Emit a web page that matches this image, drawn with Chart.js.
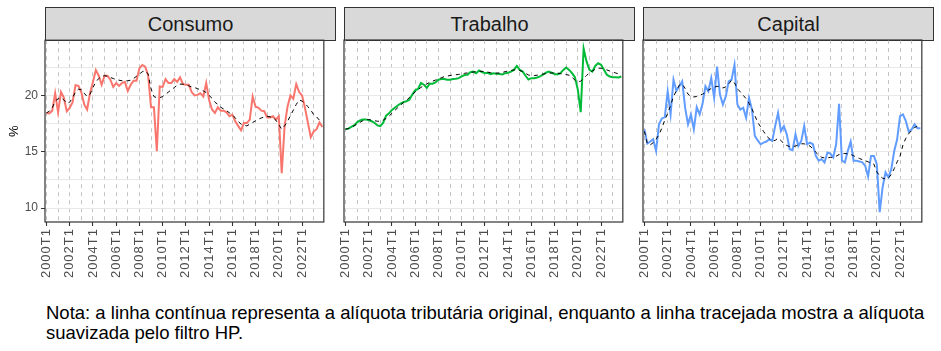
<!DOCTYPE html>
<html>
<head>
<meta charset="utf-8">
<script src="https://cdn.jsdelivr.net/npm/chart.js@4.4.1/dist/chart.umd.min.js"></script>
<style>
  body { margin: 0; background: #fff; width: 941px; height: 351px; position: relative; overflow: hidden;
         font-family: "Liberation Sans", Arial, sans-serif; }
  .strip { position: absolute; top: 7px; height: 34px; width: 291px; background: #d9d9d9; border: 1px solid #333;
           box-sizing: border-box; text-align: center; font-size: 20px; line-height: 32px; color: #1a1a1a; }
  canvas { position: absolute; top: 30px; }
  #nota { position: absolute; left: 46px; top: 303px; font-size: 18.5px; line-height: 20px; color: #000; }
</style>
</head>
<body>
<div class="strip" style="left:45px">Consumo</div>
<div class="strip" style="left:344px">Trabalho</div>
<div class="strip" style="left:643px">Capital</div>
<canvas id="c1" width="340" height="260" style="left:0px"></canvas>
<canvas id="c2" width="305" height="260" style="left:334px"></canvas>
<canvas id="c3" width="305" height="260" style="left:633px"></canvas>
<div id="nota">Nota: a linha contínua representa a alíquota tributária original, enquanto a linha tracejada mostra a alíquota<br>suavizada pelo filtro HP.</div>

<script>
// eixo x: trimestres 2000T1 ... 2023T4
const anos = [2000, 2001, 2002, 2003, 2004, 2005, 2006, 2007, 2008, 2009, 2010, 2011,
              2012, 2013, 2014, 2015, 2016, 2017, 2018, 2019, 2020, 2021, 2022, 2023];
const trimestres = [];
anos.forEach(a => { for (let t = 1; t <= 4; t++) trimestres.push(a + 'T' + t); });

const consumo = [
  18.45, 18.4, 18.65, 20.2, 18.5, 20.3, 19.8, 18.6, 18.9, 19.4, 20.9, 20.85,
  20.3, 19.2, 18.75, 20.2, 21.2, 22.25, 21.75, 20.95, 21.75, 21.75, 21.4, 20.75,
  21.1, 20.85, 21.1, 21.2, 20.4, 20.95, 21.3, 21.3, 22.4, 22.7, 22.55, 21.8,
  18.95, 18.95, 15.05, 20.8, 20.75, 21.45, 21.1, 21.1, 21.45, 21.2, 21.6, 21.0,
  20.95, 20.95, 20.3, 20.0, 20.05, 20.2, 19.9, 21.1, 19.6, 18.75, 18.45, 18.95,
  18.65, 18.65, 18.5, 18.15, 18.3, 17.7, 17.3, 16.9, 17.55, 17.55, 17.85, 19.9,
  19.0, 18.9, 18.65, 18.6, 18.05, 18.05, 18.15, 17.85, 18.15, 13.1, 17.3, 19.0,
  20.0, 19.7, 21.0, 20.3, 20.0, 18.9, 17.6, 16.3, 16.8, 17.0, 17.6, 17.2
];
const consumoHP = [
  18.45, 18.6, 18.9, 19.5, 19.7, 19.8, 19.6, 19.3, 19.4, 19.8, 20.3, 20.55,
  20.5, 20.2, 19.9, 20.1, 20.7, 21.2, 21.5, 21.7, 21.75, 21.7, 21.6, 21.5,
  21.4, 21.35, 21.3, 21.3, 21.3, 21.35, 21.5, 21.7, 21.9, 22.1, 22.2, 21.9,
  20.6, 19.9, 19.8, 19.8, 19.9, 20.1, 20.3, 20.5, 20.7, 20.9, 21.0, 21.0,
  20.95, 20.85, 20.75, 20.7, 20.6, 20.5, 20.4, 20.25, 20.0, 19.75, 19.4, 19.2,
  18.95, 18.8, 18.65, 18.45, 18.3, 18.0, 17.7, 17.45, 17.35, 17.3, 17.45, 17.6,
  17.75, 17.9, 18.0, 18.1, 18.15, 18.1, 18.05, 17.8, 17.4, 17.0, 17.3, 17.7,
  18.2, 18.7, 19.2, 19.6, 19.5, 19.3, 19.0, 18.7, 18.3, 18.1, 17.8, 17.7
];
const trabalho = [
  16.98, 17.04, 17.2, 17.33, 17.6, 17.77, 17.86, 17.86, 17.8, 17.7, 17.57, 17.33,
  17.27, 17.57, 18.2, 18.4, 18.7, 18.9, 19.1, 19.27, 19.4, 19.47, 19.6, 20.06,
  20.44, 20.56, 21.1, 20.94, 20.65, 21.03, 21.03, 21.14, 21.38, 21.44, 21.44, 21.38,
  21.38, 21.44, 21.47, 21.52, 21.67, 21.79, 21.82, 22.05, 22.1, 21.96, 22.2, 22.05,
  21.96, 22.0, 21.88, 21.96, 21.9, 21.88, 21.85, 21.96, 22.0, 22.1, 22.25, 22.6,
  22.25, 22.1, 21.73, 21.4, 21.52, 21.52, 21.58, 21.67, 21.82, 22.0, 22.1, 22.0,
  21.88, 21.85, 21.96, 22.25, 22.46, 22.25, 21.96, 21.6, 20.5, 18.5, 24.15, 23.0,
  22.26, 22.1, 22.6, 22.85, 22.7, 22.26, 21.82, 21.67, 21.6, 21.6, 21.58, 21.67
];
const trabalhoHP = [
  17.0, 17.05, 17.15, 17.3, 17.45, 17.6, 17.75, 17.85, 17.85, 17.8, 17.75, 17.7,
  17.7, 17.8, 17.95, 18.15, 18.4, 18.65, 18.9, 19.15, 19.35, 19.55, 19.8, 20.05,
  20.3, 20.5, 20.7, 20.85, 21.0, 21.15, 21.25, 21.35, 21.45, 21.55, 21.65, 21.7,
  21.75, 21.8, 21.82, 21.85, 21.9, 21.95, 21.98, 22.02, 22.06, 22.1, 22.12, 22.12,
  22.1, 22.05, 22.0, 21.98, 21.96, 21.98, 22.02, 22.1, 22.15, 22.2, 22.25, 22.25,
  22.2, 22.1, 21.95, 21.8, 21.75, 21.75, 21.78, 21.82, 21.88, 21.92, 21.96, 21.98,
  21.98, 21.96, 21.92, 21.88, 21.84, 21.78, 21.6, 21.35, 21.2, 21.25, 21.5, 21.75,
  22.0, 22.15, 22.3, 22.4, 22.4, 22.35, 22.25, 22.15, 22.05, 21.98, 21.9, 21.85
];
const capital = [
  16.98, 15.72, 15.9, 16.1, 15.07, 17.42, 17.95, 18.06, 20.35, 18.3, 21.38, 20.4,
  20.8, 21.23, 18.9, 17.42, 18.3, 16.98, 18.94, 18.3, 19.24, 20.8, 20.35, 21.52,
  19.77, 22.55, 20.06, 19.18, 19.9, 21.23, 21.38, 22.7, 19.18, 18.74, 18.9, 18.0,
  19.77, 18.74, 16.4, 16.0, 15.66, 15.8, 15.9, 16.1, 15.95, 17.27, 18.45, 16.83,
  17.27, 16.54, 15.22, 15.13, 16.54, 15.5, 15.95, 17.27, 15.66, 15.8, 15.66, 14.63,
  14.2, 14.34, 14.05, 14.93, 14.84, 14.5, 15.66, 19.24, 14.2, 14.05, 15.07, 15.9,
  14.2, 14.2, 14.14, 14.05, 13.75, 12.8, 14.63, 14.63, 13.9, 9.65, 11.85, 13.17,
  12.73, 13.46, 15.07, 16.1, 18.15, 18.3, 17.71, 16.77, 16.98, 17.42, 17.07, 17.07
];
const capitalHP = [
  16.8, 15.7, 15.6, 15.8, 16.1, 16.5, 17.1, 17.8, 18.4, 19.1, 19.9, 20.4,
  20.9, 21.0, 20.6, 20.1, 19.9, 19.85, 19.9, 20.0, 20.1, 20.25, 20.45, 20.6,
  20.7, 20.8, 20.75, 20.65, 20.75, 21.0, 21.35, 21.1, 20.6, 20.3, 20.0, 19.7,
  19.3, 18.8, 18.2, 17.6, 17.2, 16.8, 16.4, 16.15, 15.95, 16.0, 16.2, 16.0,
  15.7, 15.55, 15.45, 15.45, 15.5, 15.6, 15.7, 15.7, 15.6, 15.5, 15.25, 14.95,
  14.7, 14.5, 14.45, 14.45, 14.5, 14.5, 14.6, 14.75, 14.8, 14.85, 14.8, 14.75,
  14.65, 14.5, 14.4, 14.3, 14.2, 14.1, 14.0, 13.9, 13.2, 12.85, 12.65, 12.6,
  12.65, 13.0, 13.5, 14.1, 14.6, 15.6, 16.2, 16.6, 16.9, 17.15, 17.25, 17.3
];

Chart.defaults.font.family = '"Liberation Sans", Arial, sans-serif';

// moldura do painel (panel.border do ggplot)
const moldura = {
  id: 'moldura',
  afterDatasetsDraw(chart) {
    const { ctx, chartArea: a } = chart;
    ctx.save();
    ctx.strokeStyle = '#333333';
    ctx.lineWidth = 1.2;
    ctx.strokeRect(a.left, a.top, a.right - a.left, a.bottom - a.top);
    ctx.restore();
  }
};

// rótulos do eixo x um pouco espaçados, como no original
function espacarRotulos(s) {
  s.height = 68;
  if (s._espacado) return;
  const desenhar = s.drawLabels.bind(s);
  s.drawLabels = area => {
    s.ctx.letterSpacing = '1px';
    desenhar(area);
    s.ctx.letterSpacing = '0px';
  };
  s._espacado = true;
}

function painel(id, serie, hp, cor, primeiro) {
  new Chart(document.getElementById(id), {
    type: 'line',
    data: {
      labels: trimestres,
      datasets: [
        { data: hp, borderColor: '#000', borderWidth: 1, borderDash: [4, 4], pointRadius: 0, order: 0 },
        { data: serie, borderColor: cor, borderWidth: 2, pointRadius: 0, order: 1 }
      ]
    },
    options: {
      responsive: false,
      animation: false,
      devicePixelRatio: 1,
      events: [],
      layout: { padding: { top: 10, right: 4, left: 0, bottom: 0 } },
      plugins: { legend: { display: false }, tooltip: { enabled: false } },
      scales: {
        x: {
          type: 'category',
          offset: true,
          grid: {
            color: '#c4c4c4',
            lineWidth: c => c.index % 4 === 0 ? 1 : 0,
            tickColor: '#333333',
            tickWidth: c => c.index % 8 === 0 ? 1.1 : 0,
            tickLength: 4
          },
          border: { display: false, dash: [4, 4] },
          ticks: {
            autoSkip: false, minRotation: 90, maxRotation: 90,
            color: '#4d4d4d', font: { size: 13 }, padding: 2,
            callback: (v, i) => i % 8 === 0 ? trimestres[i] : ''
          },
          afterFit: espacarRotulos
        },
        y: {
          min: 8.77, max: 24.9,
          grid: {
            color: '#e8e8e8', lineWidth: 1,
            drawTicks: primeiro, tickLength: primeiro ? 4 : 0,
            tickColor: c => (c.tick && c.tick.value % 5 === 0) ? '#333333' : 'rgba(0,0,0,0)'
          },
          border: { display: false },
          ticks: {
            display: primeiro, stepSize: 2.5, includeBounds: false,
            color: '#4d4d4d', font: { size: 12 }, padding: 3,
            callback: v => v % 5 === 0 ? v : ''
          },
          title: { display: primeiro, text: '%', color: '#000', font: { size: 13 }, padding: { top: 7, bottom: 0 } },
          afterFit: s => { s.width = primeiro ? 45 : 10; }
        }
      }
    },
    plugins: [moldura]
  });
}

painel('c1', consumo, consumoHP, '#F8766D', true);
painel('c2', trabalho, trabalhoHP, '#00BA38', false);
painel('c3', capital, capitalHP, '#619CFF', false);
</script>
</body>
</html>
